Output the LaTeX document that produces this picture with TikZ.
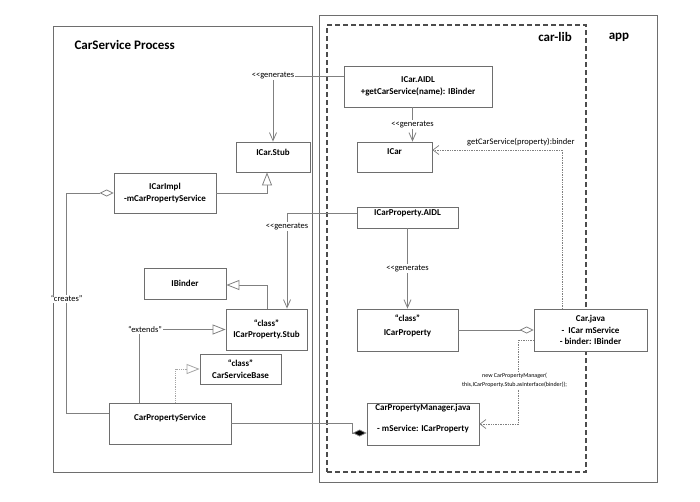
\documentclass[tikz,border=0pt]{standalone}
\usepackage{fontspec}
\setmainfont{Carlito}[Ligatures=TeXOff]
\usetikzlibrary{arrows.meta}
\definecolor{boxline}{HTML}{6E6E6E}
\definecolor{connline}{HTML}{808080}
\tikzset{
  umlbox/.style={draw=boxline, line width=0.8pt, fill=white, inner sep=0pt, align=center,
                 font=\fontsize{9}{11.5}\selectfont\bfseries},
  frame/.style={draw=boxline, line width=0.9pt, inner sep=0pt},
  libframe/.style={draw=black!70, line width=1.2pt, dash pattern=on 5pt off 3pt, inner sep=0pt},
  title/.style={font=\fontsize{13}{15}\selectfont\bfseries},
  genlbl/.style={fill=white, inner sep=1pt, font=\fontsize{8.5}{10}\selectfont},
  genline/.style={draw=connline, line width=0.8pt, -{Straight Barb[length=8pt,width=7pt]}},
  inherit/.style={draw=connline, line width=0.8pt, -{Triangle[length=13pt,width=10pt,fill=white]}},
  realize/.style={draw=connline!70, line width=0.8pt, densely dotted, -{Triangle[length=13pt,width=10pt,fill=white]}},
  depend/.style={draw=connline, line width=0.7pt, densely dotted, -{Straight Barb[length=6pt,width=9pt]}},
  aggr/.style={draw=connline, line width=0.8pt, {Diamond[length=14pt,width=7pt,fill=white]}-},
  compose/.style={draw=connline, line width=0.8pt, -{Diamond[length=14pt,width=7pt,fill=black]}},
}

\begin{document}
\begin{tikzpicture}[x=1pt, y=-1pt]
  \useasboundingbox (0,0) rectangle (700,501);
  % containers
  \node[frame, minimum width=259, minimum height=446] (svcframe) at (182.5,249) {};
  \node[frame, minimum width=338, minimum height=467] (appframe) at (488,248.5) {};
  \node[libframe, minimum width=259, minimum height=447] (carlib) at (456.5,248.5) {};
  \node[title, anchor=west] (svctitle) at (71,45) {CarService Process};
  \node[title] (libtitle) at (555,37) {car-lib};
  \node[title] (apptitle) at (619,37) {app};

  % classes
  \node[umlbox, minimum width=148, minimum height=41] (icaraidl) at (418,86.5) {ICar.AIDL\\+getCarService(name): IBinder};
  \node[umlbox, minimum width=75, minimum height=30, text depth=10] (icar) at (394.5,157) {ICar};
  \node[umlbox, minimum width=74, minimum height=30, text depth=10] (icarstub) at (273,157) {ICar.Stub};
  \node[umlbox, minimum width=102, minimum height=40] (icarimpl) at (165,193) {ICarImpl\\-mCarPropertyService};
  \node[umlbox, minimum width=101, minimum height=21, text depth=9] (icarpropaidl) at (407.5,217.5) {ICarProperty.AIDL};
  \node[umlbox, minimum width=101, minimum height=42, text depth=10] (icarprop) at (407.5,330) {“class”\\[2.5pt]ICarProperty};
  \node[umlbox, minimum width=113, minimum height=42] (carjava) at (590.5,330) {Car.java\\-\ \ ICar mService\\- binder: IBinder};
  \node[umlbox, minimum width=112, minimum height=42, text depth=13] (cpmanager) at (423,424) {CarPropertyManager.java\\[9.5pt]- mService: ICarProperty};
  \node[umlbox, minimum width=82, minimum height=31] (ibinder) at (185,283.5) {IBinder};
  \node[umlbox, minimum width=81, minimum height=41] (cpstub) at (266.5,329.5) {“class”\\ICarProperty.Stub};
  \node[umlbox, minimum width=81, minimum height=30] (csbase) at (240.5,369) {“class”\\CarServiceBase};
  \node[umlbox, minimum width=122, minimum height=41, text depth=13] (cpservice) at (170,423.5) {CarPropertyService};

  % generated classes
  \draw[genline] ([yshift=10.5]icaraidl.west) -| node[genlbl, pos=0.5] {<<generates} (icarstub.north);
  \draw[genline] ([xshift=18]icar.north |- icaraidl.south) -- node[genlbl] {<<generates} ([xshift=18]icar.north);
  \draw[genline] ([yshift=4.5]icarpropaidl.west) -| node[genlbl, pos=0.57] {<<generates} ([xshift=20.5]cpstub.north);
  \draw[genline] (icarpropaidl.south) -- node[genlbl] {<<generates} (icarprop.north);

  % inheritance
  \draw[inherit] (icarimpl.east) -| ([xshift=-6]icarstub.south);
  \draw[inherit] ([xshift=0.5]cpstub.north) |- ([yshift=-1.5]ibinder.east);
  \draw[inherit] ([xshift=-31]cpservice.north) |- node[genlbl, pos=0.5, xshift=6] {“extends”} (cpstub.west);
  \draw[realize] ([xshift=5]cpservice.north) |- (csbase.west);

  % associations
  \draw[aggr] (icarimpl.west) -- ++(-47,0) |- node[genlbl, pos=0.24] {“creates”} ([yshift=10.5]cpservice.west);
  \draw[aggr] (carjava.west) -- (icarprop.east);
  \draw[compose] (cpservice.east) -- ++(121,0) |- ([yshift=-9]cpmanager.west);

  % calls
  \draw[depend] ([xshift=-28]carjava.north) |- node[pos=0.66, above=4pt, inner sep=0pt, font=\fontsize{8.5}{10}\selectfont] {getCarService(property):binder} ([yshift=7]icar.east);
  \draw[depend] ([yshift=-10]carjava.west) -- ++(-15,0) |- node[pos=0.24, xshift=-4, fill=white, inner sep=1pt, align=center, font=\fontsize{6}{9}\selectfont] {new CarPropertyManager(\\this,ICarProperty.Stub.asInterface(binder));} (cpmanager.east);
\end{tikzpicture}
\end{document}
